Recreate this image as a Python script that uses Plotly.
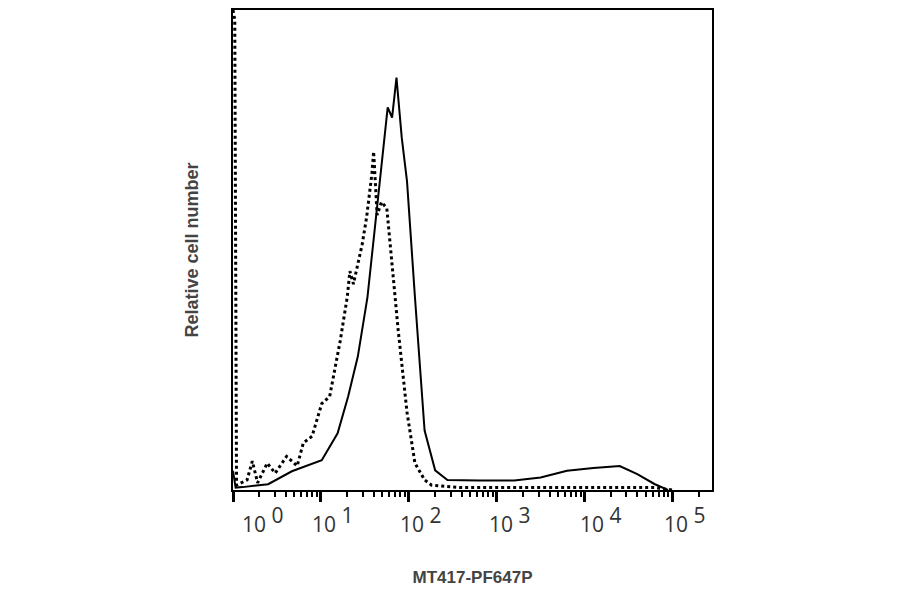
import numpy as np
import plotly.graph_objects as go

solid_log = [0.0, 0.03, 0.11, 0.4, 0.67, 1.01, 1.19, 1.31, 1.42, 1.53, 1.61, 1.69, 1.76, 1.81, 1.86, 1.92, 1.98, 2.07, 2.18, 2.30, 2.44, 2.8, 3.2, 3.5, 3.8, 4.1, 4.4, 4.6, 4.8, 4.95]
solid_h = [4.0, 0.5, 0.6, 1.2, 3.9, 6.2, 11.8, 19.5, 27.8, 40.2, 53.9, 67.8, 79.7, 77.6, 85.9, 73.4, 64.3, 40.2, 12.4, 4.1, 2.1, 2.0, 2.0, 2.6, 4.0, 4.6, 5.0, 3.3, 1.2, 0.0]
dot_log = [0.0, 0.02, 0.04, 0.16, 0.22, 0.28, 0.39, 0.48, 0.61, 0.73, 0.80, 0.90, 1.01, 1.10, 1.22, 1.30, 1.33, 1.37, 1.47, 1.52, 1.58, 1.60, 1.64, 1.69, 1.75, 1.81, 1.88, 1.98, 2.07, 2.18, 2.26, 2.6, 4.8, 5.0]
dot_h = [100, 98, 1.0, 2.1, 6.0, 1.5, 5.6, 3.5, 7.0, 5.0, 9.8, 11.2, 18.0, 19.5, 31.1, 40.2, 45.6, 42.9, 51.2, 56.8, 65.8, 70.5, 57.3, 60.0, 58.7, 46.9, 33.2, 16.2, 5.6, 2.1, 1.0, 0.5, 0.5, 0.0]
tick_exps = ["0", "1", "2", "3", "4", "5"]
label_pos = [0.34, 1.14, 2.14, 3.15, 4.19, 5.14]

fig = go.Figure()
fig.add_trace(go.Scatter(x=10**np.array(dot_log), y=dot_h, mode="lines",
                         line=dict(color="black", width=3, dash="dot")))
fig.add_trace(go.Scatter(x=10**np.array(solid_log), y=solid_h, mode="lines",
                         line=dict(color="black", width=2)))
for e, p in zip(tick_exps, label_pos):
    fig.add_annotation(x=p, y=0, xref="x", yref="paper", yshift=-50,
                       text="10 <sup><span style='font-size:21px'>" + e + "</span></sup>", showarrow=False,
                       font=dict(family="Open Sans, Liberation Sans", size=21, color="#333"))
fig.update_layout(
    width=900, height=594, showlegend=False, plot_bgcolor="white", paper_bgcolor="white",
    margin=dict(l=225, r=196, t=0, b=112),
    xaxis=dict(type="log", range=[0, 5.45], showgrid=False, zeroline=False,
               showline=True, linecolor="black", linewidth=2, mirror=True,
               ticks="outside", ticklen=10, tickwidth=2.5, tickcolor="black", dtick=1,
               showticklabels=False,
               minor=dict(ticks="outside", ticklen=5, tickwidth=1.5, tickcolor="black", dtick="D1"),
               title=dict(text="<b>MT417-PF647P</b>", standoff=70,
                          font=dict(family="Liberation Sans, Arial", size=17, color="#444"))),
    yaxis=dict(range=[0, 100], showgrid=False, zeroline=False, showticklabels=False,
               showline=True, linecolor="black", linewidth=2, mirror=True, ticks="",
               title=dict(text="<b>Relative cell number</b>", standoff=28,
                          font=dict(family="Liberation Sans, Arial", size=18, color="#444"))),
)
fig.write_html("out.html")
